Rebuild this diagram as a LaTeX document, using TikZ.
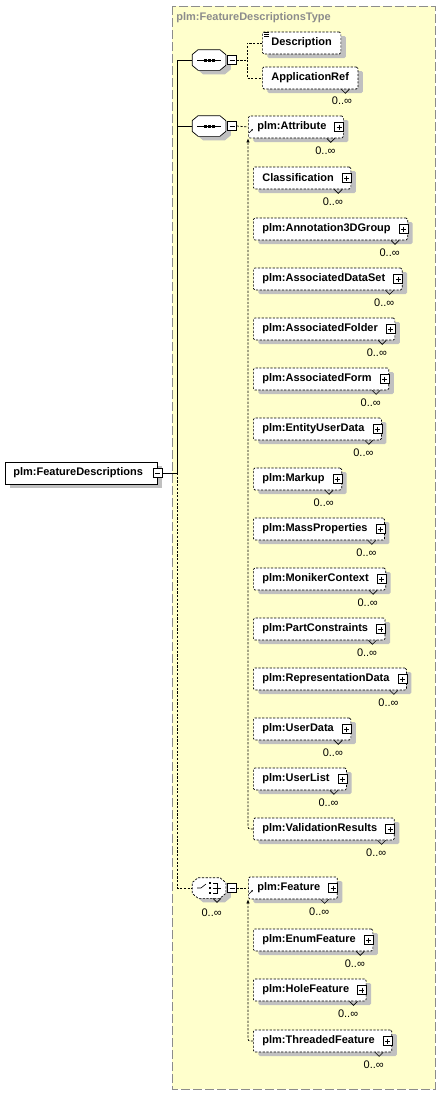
\documentclass[tikz,border=0pt]{standalone}
\usepackage{fontspec}
\setsansfont{Liberation Sans}
\usetikzlibrary{positioning,arrows.meta,shadows}

\definecolor{typefill}{RGB}{255,255,204}
\definecolor{typeline}{RGB}{140,140,140}
\definecolor{shadowgray}{RGB}{192,192,192}

\begin{document}
\begin{tikzpicture}[
    x=1pt, y=-1pt, line width=0.7pt,
    font=\sffamily\fontsize{11}{13}\selectfont,
    opt/.style={dash pattern=on 2.2pt off 1.5pt},
    drop/.style={general shadow={fill=shadowgray, shadow xshift=5pt, shadow yshift=-4pt}},
    elbox/.style={draw, opt, fill=white, drop, anchor=west, minimum height=22pt,
      inner xsep=0pt, rounded corners=1.5pt,
      font=\sffamily\bfseries\fontsize{11}{13}\selectfont},
    elem/.style={elbox, execute at begin node={\hspace*{9pt}}, execute at end node={\hspace*{17pt}}},
    leaf/.style={elbox, execute at begin node={\hspace*{9pt}}, execute at end node={\hspace*{9pt}}},
    rootel/.style={elbox, solid, rounded corners=0pt, execute at begin node={\hspace*{8pt}}, execute at end node={\hspace*{14pt}}},
    pbox/.style={draw, solid, fill=white, minimum size=9pt, inner sep=0pt, line width=0.5pt,
      path picture={\draw[line width=0.6pt]
        ([xshift=2pt]path picture bounding box.west) -- ([xshift=-2pt]path picture bounding box.east)
        ([yshift=-2pt]path picture bounding box.north) -- ([yshift=2pt]path picture bounding box.south);}},
    mbox/.style={draw, solid, fill=white, minimum size=9pt, inner sep=0pt, line width=0.5pt,
      path picture={\draw[line width=0.6pt]
        ([xshift=2pt]path picture bounding box.west) -- ([xshift=-2pt]path picture bounding box.east);}},
    octa/.style={minimum width=33pt, minimum height=20pt, inner sep=0pt},
    mult/.style={anchor=east, inner sep=0pt},
    notch/.style={solid, line width=0.6pt},
    subst/.style={opt, -{Latex[length=4pt,width=3.5pt]}}]

  \useasboundingbox (0,0) rectangle (440,1095);

  % complex type area
  \draw[typeline, fill=typefill, line width=1pt, dash pattern=on 9pt off 3pt] (172,6) rectangle (435,1089);
  \node[anchor=west, inner sep=0pt, text=typeline, font=\sffamily\bfseries\fontsize{11}{13}\selectfont] (ttl)
    at (176,18) {plm:FeatureDescriptionsType};

  % root element
  \node[rootel] (root) at (5,473) {plm:FeatureDescriptions};
  \node[mbox] (rootm) at (root.east) {};
  \coordinate (trunk) at (177,473);

  % compositors
  \node[octa] (seq1) at (209,60) {};
  \node[octa] (seq2) at (209,126) {};
  \node[octa] (choice) at (209,888) {};
  \foreach \c/\s in {seq1/solid, seq2/solid, choice/opt}
    \draw[\s, fill=white, drop] ([xshift=6pt]\c.north west) -- ([xshift=-6pt]\c.north east)
      -- ([yshift=-5pt]\c.north east) -- ([yshift=5pt]\c.south east) -- ([xshift=-6pt]\c.south east)
      -- ([xshift=6pt]\c.south west) -- ([yshift=5pt]\c.south west) -- ([yshift=-5pt]\c.north west) -- cycle;
  \foreach \c in {seq1, seq2} {
    \draw ([xshift=-12pt]\c.center) -- ++(24,0);
    \foreach \d in {-4,0,4}
      \fill ([xshift=\d pt]\c.center) +(-1.5,-1.5) rectangle +(1.5,1.5);
  }
  \draw[line width=0.6pt] ([xshift=-12pt]choice.center) -- ++(4,0) -- ++(5,-4);
  \foreach \d in {-5,0,5}
    \fill ([shift={(1,\d)}]choice.center) +(-1.3,-1.3) rectangle +(1.3,1.3);
  \draw[line width=0.6pt] ([shift={(4,-5)}]choice.center) -- ++(4,0) -- ++(0,10) -- ++(-4,0)
    ([xshift=4pt]choice.center) -- ++(8,0);
  \node[mbox] (seq1m) at (232,60) {};
  \node[mbox] (seq2m) at (232,126) {};
  \node[mbox] (choicem) at (232,888) {};
  \node[mult] (choice-m) at ([xshift=13pt,yshift=-14pt]choice.south) {0..∞};
  \draw[notch] ([xshift=4pt]choice.south) -- ++(4,4) -- ++(4,-4);

  % first sequence
  \node[leaf] (desc) at (262,43) {Description};
  \node[leaf] (appref) at (262,78) {ApplicationRef};
  \node[mult] (appref-m) at ([xshift=-6pt,yshift=-11pt]appref.south east) {0..∞};
  \draw[notch] ([xshift=-17pt]appref.south east) -- ++(4,4) -- ++(4,-4);
  \draw[line width=0.5pt] ([shift={(2,1)}]desc.north west) -- ++(5,0)
    ([shift={(2,3)}]desc.north west) -- ++(5,0) ([shift={(2,5)}]desc.north west) -- ++(5,0);

  % second sequence
  \node[elem] (attr) at (248,127) {plm:Attribute};
  \node[elem] (cls) at (253,178) {Classification};
  \node[elem] (ann) at (253,229) {plm:Annotation3DGroup};
  \node[elem] (ads) at (253,279) {plm:AssociatedDataSet};
  \node[elem] (afo) at (253,329) {plm:AssociatedFolder};
  \node[elem] (afm) at (253,379) {plm:AssociatedForm};
  \node[elem] (eud) at (253,429) {plm:EntityUserData};
  \node[elem] (mku) at (253,479) {plm:Markup};
  \node[elem] (mpr) at (253,529) {plm:MassProperties};
  \node[elem] (mnc) at (253,579) {plm:MonikerContext};
  \node[elem] (pcn) at (253,629) {plm:PartConstraints};
  \node[elem] (rpd) at (253,679) {plm:RepresentationData};
  \node[elem] (usd) at (253,729) {plm:UserData};
  \node[elem] (usl) at (253,779) {plm:UserList};
  \node[elem] (vlr) at (253,829) {plm:ValidationResults};

  % choice
  \node[elem] (feat) at (248,888) {plm:Feature};
  \node[elem] (enf) at (253,940) {plm:EnumFeature};
  \node[elem] (hlf) at (253,990) {plm:HoleFeature};
  \node[elem] (thf) at (253,1041) {plm:ThreadedFeature};

  \foreach \n in {attr,cls,ann,ads,afo,afm,eud,mku,mpr,mnc,pcn,rpd,usd,usl,vlr,feat,enf,hlf,thf} {
    \node[pbox] (\n-p) at ([xshift=-4.5pt]\n.east) {};
    \node[mult] (\n-m) at ([xshift=-8pt,yshift=-12pt]\n.south east) {0..∞};
    \draw[notch] ([xshift=-17pt]\n.south east) -- ++(4,4) -- ++(4,-4);
  }
  \draw[-{Stealth[length=2.5pt]}, line width=0.6pt] ([shift={(1,6)}]attr.west) -- ++(4,-4);
  \draw[-{Stealth[length=2.5pt]}, line width=0.6pt] ([shift={(1,6)}]feat.west) -- ++(4,-4);

  % connectors
  \draw (rootm.east) -- (trunk) |- (seq1.west);
  \draw (trunk) |- (seq2.west);
  \draw[opt] (trunk) |- (choice.west);
  \coordinate (br1) at (247,60);
  \draw[opt] (seq1m.east) -- (br1) |- (desc.west);
  \draw[opt] (br1) |- (appref.west);
  \draw[opt] (seq2m.east) -- (attr.west);
  \draw[opt] (choicem.east) -- (feat.west);
  \draw[subst, rounded corners=2pt] (vlr.west) -| (attr.south west);
  \draw[subst, rounded corners=2pt] (thf.west) -| (feat.south west);
\end{tikzpicture}
\end{document}
